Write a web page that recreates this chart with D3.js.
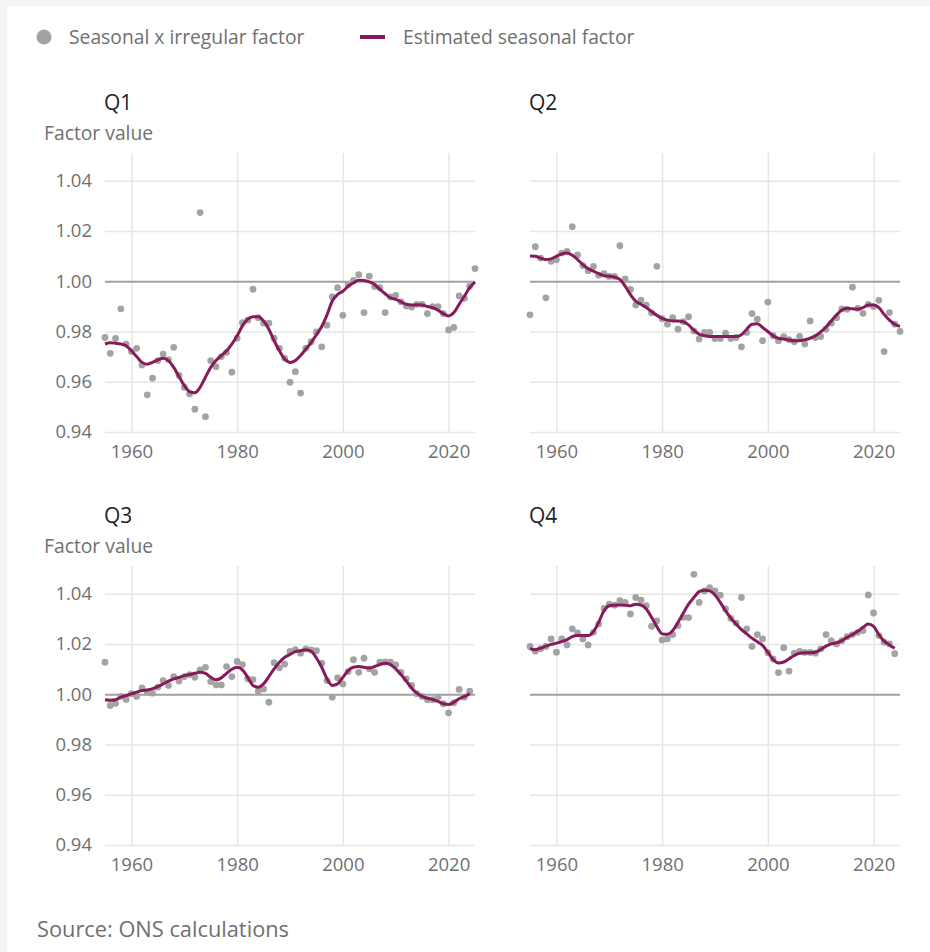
<!DOCTYPE html>
<html>
<head>
<meta charset="utf-8">
<script src="https://cdn.jsdelivr.net/npm/d3@7"></script>
<style>
  body { margin: 0; background: #f4f4f4; font-family: 'Open Sans', sans-serif; }
  .tick-label { fill: #707070; font-size: 18.5px; }
  .legend-label { fill: #707070; font-size: 19.3px; }
</style>
</head>
<body>
<div id="chart"></div>
<script>
// Data, one value per year from 1955
var firstYear = 1955
var yearTicks = [1960, 1980, 2000, 2020]
var valueTicks = [0.94, 0.96, 0.98, 1.0, 1.02, 1.04]
var quarters = ['Q1', 'Q2', 'Q3', 'Q4']

var q1Irregular = [0.9776, 0.9713, 0.9772, 0.989, 0.975, 0.972, 0.9733, 0.9667, 0.9548, 0.9614,
  0.9684, 0.971, 0.9688, 0.9737, 0.9625, 0.9578, 0.9552, 0.9491, 1.0273, 0.9461,
  0.9684, 0.966, 0.97, 0.9717, 0.9638, 0.9773, 0.9835, 0.9845, 0.9968, 0.9855,
  0.9833, 0.9833, 0.9773, 0.9733, 0.9693, 0.9598, 0.964, 0.9555, 0.9734, 0.9759,
  0.9798, 0.9739, 0.9825, 0.9937, 0.9974, 0.9864, 0.9987, 1.0003, 1.0026, 0.9875,
  1.002, 0.9979, 0.9974, 0.9875, 0.9937, 0.9943, 0.9918, 0.9901, 0.9897, 0.9908,
  0.9908, 0.9871, 0.9899, 0.9899, 0.9871, 0.9806, 0.9816, 0.9941, 0.9932, 0.998, 1.005]
var q1Seasonal = [0.975, 0.9755, 0.9753, 0.975, 0.9743, 0.9723, 0.97, 0.9677, 0.967, 0.9677,
  0.9687, 0.9693, 0.9684, 0.9657, 0.962, 0.9585, 0.9561, 0.9556, 0.9578, 0.9618,
  0.9657, 0.9684, 0.9704, 0.9723, 0.975, 0.9783, 0.9822, 0.9849, 0.9859, 0.9859,
  0.9842, 0.9809, 0.9763, 0.9723, 0.969, 0.9677, 0.9684, 0.9704, 0.973, 0.9756,
  0.9787, 0.982, 0.9866, 0.9921, 0.9947, 0.996, 0.998, 0.9993, 1.0004, 1.0003,
  0.9997, 0.9987, 0.9967, 0.995, 0.9934, 0.9928, 0.9918, 0.9908, 0.9905, 0.9906,
  0.9905, 0.9899, 0.9895, 0.9885, 0.9871, 0.9862, 0.9875, 0.9908, 0.9941, 0.9974, 0.9997]

var q2Irregular = [0.9866, 1.0137, 1.0092, 0.9934, 1.0079, 1.0085, 1.0112, 1.0119, 1.0217, 1.0105,
  1.0062, 1.0042, 1.0059, 1.0024, 1.003, 1.0019, 1.0019, 1.0141, 1.0009, 0.9967,
  0.9905, 0.9925, 0.9905, 0.9874, 1.0059, 0.9851, 0.9829, 0.9855, 0.9809, 0.9839,
  0.9859, 0.9802, 0.977, 0.9796, 0.9796, 0.9772, 0.9772, 0.9793, 0.9772, 0.9776,
  0.9739, 0.9796, 0.9871, 0.9849, 0.9763, 0.9917, 0.9783, 0.9763, 0.9779, 0.9767,
  0.9759, 0.978, 0.975, 0.9842, 0.9776, 0.978, 0.9809, 0.9833, 0.9855, 0.989,
  0.9888, 0.9976, 0.9892, 0.9872, 0.9908, 0.9899, 0.9924, 0.972, 0.9875, 0.9829, 0.98]
var q2Seasonal = [1.01, 1.0099, 1.0092, 1.0086, 1.0089, 1.0099, 1.0108, 1.0112, 1.0103, 1.0086,
  1.0066, 1.005, 1.004, 1.003, 1.0022, 1.002, 1.0016, 1.0007, 0.998, 0.9947,
  0.9921, 0.9908, 0.9895, 0.9879, 0.9864, 0.9852, 0.9845, 0.9842, 0.9842, 0.9839,
  0.9826, 0.9805, 0.9789, 0.9783, 0.978, 0.978, 0.978, 0.978, 0.978, 0.978,
  0.9787, 0.9809, 0.9829, 0.9831, 0.9816, 0.98, 0.9783, 0.9773, 0.977, 0.9766,
  0.9763, 0.9763, 0.9767, 0.9773, 0.9783, 0.9798, 0.9818, 0.9842, 0.9866, 0.9885,
  0.9892, 0.989, 0.9888, 0.9895, 0.9905, 0.9905, 0.9895, 0.9868, 0.9845, 0.9829, 0.982]

var q3Irregular = [1.0127, 0.9955, 0.9964, 0.9991, 0.9979, 1.0002, 0.9991, 1.0025, 1.0008, 1.0004,
  1.0028, 1.0054, 1.0035, 1.007, 1.0052, 1.007, 1.0078, 1.0067, 1.0097, 1.0107,
  1.005, 1.0037, 1.0037, 1.011, 1.007, 1.013, 1.0118, 1.0061, 1.0058, 1.0012,
  1.0021, 0.9968, 1.0125, 1.0105, 1.012, 1.017, 1.0177, 1.0163, 1.018, 1.0176,
  1.0173, 1.0123, 1.0054, 0.9988, 1.0065, 1.0041, 1.009, 1.0137, 1.0087, 1.0143,
  1.0101, 1.0087, 1.0127, 1.0128, 1.0127, 1.0117, 1.0087, 1.0061, 1.0035, 1.0002,
  0.9991, 0.9978, 0.9978, 0.9988, 0.9962, 0.9926, 0.9966, 1.0019, 0.9988, 1.0012]
var q3Seasonal = [0.9978, 0.9976, 0.9978, 0.9988, 0.9995, 1.0001, 1.0008, 1.0015, 1.0017, 1.0022,
  1.003, 1.0041, 1.0052, 1.0061, 1.0067, 1.0074, 1.0078, 1.0083, 1.0087, 1.0083,
  1.0067, 1.0057, 1.0065, 1.0083, 1.0099, 1.0107, 1.0097, 1.0067, 1.0035, 1.0028,
  1.0041, 1.007, 1.0101, 1.0127, 1.0147, 1.0158, 1.0169, 1.0173, 1.0177, 1.0171,
  1.0144, 1.0107, 1.0061, 1.0035, 1.0041, 1.0067, 1.0094, 1.0107, 1.011, 1.0107,
  1.0104, 1.011, 1.0118, 1.0123, 1.0118, 1.0101, 1.0078, 1.0052, 1.0025, 1.0004,
  0.9991, 0.9984, 0.9979, 0.9971, 0.9962, 0.9959, 0.9968, 0.9982, 0.9991, 1.0002]

var q4Irregular = [1.019, 1.0171, 1.0181, 1.019, 1.022, 1.0167, 1.022, 1.0196, 1.026, 1.0244,
  1.022, 1.0196, 1.0246, 1.0279, 1.0341, 1.0358, 1.0354, 1.0372, 1.0365, 1.0319,
  1.0385, 1.0374, 1.0352, 1.027, 1.0292, 1.0216, 1.022, 1.0237, 1.0273, 1.0306,
  1.0305, 1.0477, 1.0365, 1.0411, 1.0424, 1.0411, 1.0394, 1.0339, 1.0302, 1.0283,
  1.0385, 1.026, 1.019, 1.0237, 1.022, 1.0165, 1.014, 1.0086, 1.0185, 1.0092,
  1.0163, 1.017, 1.0166, 1.0166, 1.0163, 1.018, 1.0237, 1.0213, 1.02, 1.0213,
  1.0229, 1.0237, 1.0246, 1.0253, 1.0395, 1.0323, 1.0233, 1.0207, 1.02, 1.0161]
var q4Seasonal = [1.0181, 1.0177, 1.0183, 1.0191, 1.0198, 1.0203, 1.0209, 1.0217, 1.0229, 1.0233,
  1.0233, 1.0233, 1.0249, 1.0286, 1.0332, 1.0352, 1.0354, 1.0355, 1.0354, 1.0352,
  1.0358, 1.0355, 1.0339, 1.0306, 1.0269, 1.024, 1.0238, 1.0253, 1.0286, 1.0323,
  1.0358, 1.0385, 1.0408, 1.0414, 1.0411, 1.0395, 1.0365, 1.0332, 1.0302, 1.0279,
  1.0257, 1.024, 1.0223, 1.0209, 1.0194, 1.0167, 1.0138, 1.0124, 1.0128, 1.0141,
  1.0154, 1.0163, 1.0165, 1.0165, 1.0167, 1.0178, 1.0191, 1.02, 1.0204, 1.0213,
  1.0226, 1.0237, 1.025, 1.0266, 1.0279, 1.027, 1.0237, 1.0211, 1.0196, 1.0183]

var irregularSeries = [q1Irregular, q2Irregular, q3Irregular, q4Irregular]
var seasonalSeries = [q1Seasonal, q2Seasonal, q3Seasonal, q4Seasonal]

var pointColor = '#a3a3a3'
var lineColor = '#871a5b'

// Page + panel layout
var pageWidth = 930
var pageHeight = 952
var panelWidth = 370
var panelHeight = 279
var panelLefts = [105, 530]
var panelTops = [153, 566]

var svg = d3.select('#chart')
  .append('svg')
  .attr('width', pageWidth)
  .attr('height', pageHeight)

svg.append('rect')
  .attr('x', 7)
  .attr('y', 6)
  .attr('width', pageWidth - 7)
  .attr('height', pageHeight - 6)
  .attr('fill', '#fff')

// Legend
var legend = svg.append('g').attr('transform', 'translate(44,37)')
legend.append('circle').attr('r', 7.5).attr('fill', pointColor)
legend.append('text')
  .attr('class', 'legend-label')
  .attr('x', 25)
  .attr('dy', '0.35em')
  .text('Seasonal x irregular factor')
legend.append('line')
  .attr('x1', 316).attr('x2', 341)
  .attr('stroke', lineColor)
  .attr('stroke-width', 4)
legend.append('text')
  .attr('class', 'legend-label')
  .attr('x', 359)
  .attr('dy', '0.35em')
  .text('Estimated seasonal factor')

// Scales shared by every panel
var xPositionScale = d3.scaleLinear().domain([1955, 2025]).range([0, panelWidth])
var yPositionScale = d3.scaleLinear().domain([0.94, 1.051]).range([panelHeight, 0])

var line = d3.line()
  .x(function(d) { return xPositionScale(d.year) })
  .y(function(d) { return yPositionScale(d.value) })
  .curve(d3.curveMonotoneX)

function toPoints(values) {
  return values.map(function(v, i) {
    return { year: firstYear + i, value: v }
  })
}

quarters.forEach(function(name, i) {
  var col = i % 2
  var row = Math.floor(i / 2)
  var g = svg.append('g')
    .attr('transform', 'translate(' + panelLefts[col] + ',' + panelTops[row] + ')')

  // Title + y axis title
  g.append('text')
    .attr('x', -1)
    .attr('y', -43)
    .attr('fill', '#222')
    .style('font-size', '21px')
    .text(name)
  if (col === 0) {
    g.append('text')
      .attr('class', 'legend-label')
      .attr('x', -61)
      .attr('y', -13)
      .text('Factor value')
  }

  // Grid lines
  var yAxis = d3.axisLeft(yPositionScale)
    .tickValues(valueTicks)
    .tickSize(-panelWidth)
    .tickFormat(col === 0 ? d3.format('.2f') : '')
  var yg = g.append('g').attr('class', 'axis y-axis').call(yAxis)
  yg.select('.domain').remove()
  yg.selectAll('line')
    .attr('stroke', function(d) { return d === 1 ? '#a0a0a0' : '#e6e6e6' })
    .attr('stroke-width', function(d) { return d === 1 ? 2 : 1.5 })
  yg.selectAll('text')
    .attr('class', 'tick-label')
    .attr('x', -13)
    .attr('fill', null)
    .style('font-family', 'Open Sans')

  var xAxis = d3.axisBottom(xPositionScale)
    .tickValues(yearTicks)
    .tickSize(-panelHeight)
    .tickFormat(d3.format('d'))
  var xg = g.append('g')
    .attr('class', 'axis x-axis')
    .attr('transform', 'translate(0,' + panelHeight + ')')
    .call(xAxis)
  xg.select('.domain').remove()
  xg.selectAll('line').attr('stroke', '#e6e6e6').attr('stroke-width', 1.5)
  xg.selectAll('text')
    .attr('class', 'tick-label')
    .attr('y', 13)
    .attr('fill', null)
    .style('font-family', 'Open Sans')
  // keep the 1.00 line on top of the vertical grid
  yg.raise()
  yg.selectAll('.tick').filter(function(d) { return d !== 1 }).lower()

  // Points then the smoothed line
  g.selectAll('.dot')
    .data(toPoints(irregularSeries[i]))
    .enter()
    .append('circle')
    .attr('class', 'dot')
    .attr('r', 3.4)
    .attr('cx', function(d) { return xPositionScale(d.year) })
    .attr('cy', function(d) { return yPositionScale(d.value) })
    .attr('fill', pointColor)

  g.append('path')
    .datum(toPoints(seasonalSeries[i]))
    .attr('d', line)
    .attr('fill', 'none')
    .attr('stroke', lineColor)
    .attr('stroke-width', 3)
})

// Source note
svg.append('text')
  .attr('x', 37)
  .attr('y', 937)
  .attr('fill', '#707070')
  .style('font-size', '21.8px')
  .text('Source: ONS calculations')
</script>
</body>
</html>
